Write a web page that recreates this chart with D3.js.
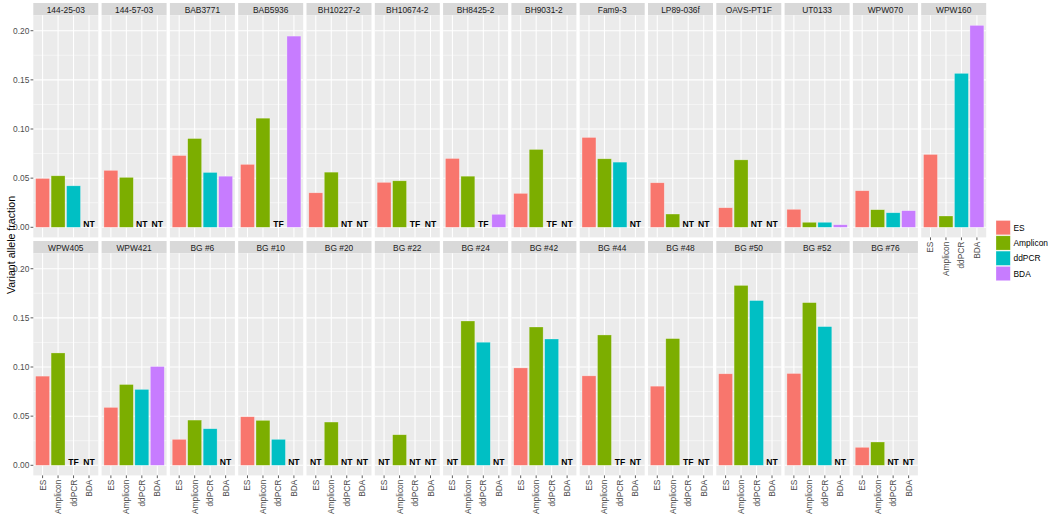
<!DOCTYPE html>
<html><head><meta charset="utf-8">
<script src="https://cdn.jsdelivr.net/npm/d3@7"></script>
<style>
html,body{margin:0;padding:0;background:#fff;}
text{font-family:"Liberation Sans",Arial,Helvetica,sans-serif;}
</style></head>
<body><svg id="chart" width="1050" height="517"></svg>
<script>
const panels = ["144-25-03","144-57-03","BAB3771","BAB5936","BH10227-2","BH10674-2","BH8425-2","BH9031-2","Fam9-3","LP89-036f","OAVS-PT1F","UT0133","WPW070","WPW160",
  "WPW405","WPW421","BG #6","BG #10","BG #20","BG #22","BG #24","BG #42","BG #44","BG #48","BG #50","BG #52","BG #76"];
const methods = ["ES","Amplicon","ddPCR","BDA"];
const colors = ["#F8766D","#7CAE00","#00BFC4","#C77CFF"];
// numeric = variant allele fraction, string = annotation (NT / TF)
const esValues = [0.0497,0.0579,0.073,0.064,0.0351,0.0457,0.070,0.0345,0.0914,0.0453,0.0199,0.0183,0.0372,0.0741,
  0.0907,0.0589,0.0264,0.0494,"NT","NT","NT",0.0991,0.091,0.0805,0.0931,0.0934,0.0183];
const ampliconValues = [0.0524,0.0508,0.0903,0.111,0.0561,0.0473,0.052,0.0792,0.0697,0.0135,0.0686,0.0051,0.0179,0.0115,
  0.1143,0.0822,0.046,0.0457,0.044,0.0311,0.1468,0.1407,0.1326,0.1289,0.183,0.1655,0.0237];
const ddpcrValues = [0.0422,"NT",0.0558,"TF","NT","TF","TF","TF",0.0663,"NT","NT",0.0051,0.0148,0.1566,
  "TF",0.0772,0.0372,0.0264,"NT","NT",0.1252,0.1285,"TF","TF",0.1676,0.1411,"NT"];
const bdaValues = ["NT","NT",0.052,0.1945,"NT","NT",0.0132,"NT","NT","NT","NT",0.0026,0.0169,0.2054,
  "NT",0.1005,"NT","NT","NT","NT","NT","NT","NT","NT","NT","NT","NT"];
const yTicks = [0,0.05,0.10,0.15,0.20];
const yMinor = [0.025,0.075,0.125,0.175];
const yTickLabels = ["0.00","0.05","0.10","0.15","0.20"];
const yTitle = "Variant allele fraction";

const series = [esValues, ampliconValues, ddpcrValues, bdaValues];
const rows = panels.map((p,i)=>({panel:p, idx:i, vals: series.map((s,j)=>({method:methods[j], v:s[i]}))}));

const svg = d3.select("#chart");
const nCols = 14;
const left = 33.3, colStep = 68.3, panelW = 65;
const rowTop = [3, 241], stripH = 12.3, panelH = 222.1;

const maxV = d3.max(series.flat().filter(v=>typeof v==="number"));
const pad = maxV*0.05;
const y = d3.scaleLinear().domain([-pad, maxV+pad]).range([panelH,0]);
// discrete x: positions 1..4 in [0.4,4.6]
const xc = d3.scaleLinear().domain([0.4,4.6]).range([0,panelW]);
const color = d3.scaleOrdinal().domain(methods).range(colors);

rows.forEach(r=>{
  const row = r.idx < nCols ? 0 : 1;
  const col = r.idx < nCols ? r.idx : r.idx - nCols;
  const gx = left + col*colStep;
  const gy = rowTop[row];
  const g = svg.append("g").attr("transform",`translate(${gx},${gy})`);
  // strip
  g.append("rect").attr("x",0).attr("y",0).attr("width",panelW).attr("height",stripH).attr("fill","#D9D9D9");
  g.append("text").attr("x",panelW/2).attr("y",stripH/2+0.5).attr("text-anchor","middle").attr("dominant-baseline","central")
    .attr("font-size","8.4px").attr("fill","#1A1A1A").text(r.panel);
  const p = g.append("g").attr("transform",`translate(0,${stripH})`);
  p.append("rect").attr("width",panelW).attr("height",panelH).attr("fill","#EBEBEB");
  yMinor.forEach(t=>p.append("line").attr("x1",0).attr("x2",panelW).attr("y1",y(t)).attr("y2",y(t)).attr("stroke","#fff").attr("stroke-width",0.5));
  yTicks.forEach(t=>p.append("line").attr("x1",0).attr("x2",panelW).attr("y1",y(t)).attr("y2",y(t)).attr("stroke","#fff").attr("stroke-width",1.05));
  methods.forEach((m,j)=>p.append("line").attr("x1",xc(j+1)).attr("x2",xc(j+1)).attr("y1",0).attr("y2",panelH).attr("stroke","#fff").attr("stroke-width",1.05));
  // bars
  r.vals.forEach((d,j)=>{
    if(typeof d.v === "number"){
      p.append("rect").attr("x",xc(j+1-0.45)).attr("width",xc(0.9)-xc(0))
        .attr("y",y(d.v)).attr("height",y(0)-y(d.v))
        .attr("fill",color(d.method)).attr("stroke","#fff").attr("stroke-opacity",0.45).attr("stroke-width",0.6);
    } else {
      p.append("text").attr("x",xc(j+1)).attr("y",y(0)).attr("text-anchor","middle")
        .attr("font-size","8.6px").attr("font-weight","bold").attr("fill","#000").text(d.v);
    }
  });
  // y axis on first column
  if(col===0){
    yTicks.forEach((t,k)=>{
      p.append("line").attr("x1",-2.75).attr("x2",0).attr("y1",y(t)).attr("y2",y(t)).attr("stroke","#333").attr("stroke-width",0.8);
      p.append("text").attr("x",-4).attr("y",y(t)).attr("text-anchor","end").attr("dominant-baseline","central")
        .attr("font-size","8.4px").attr("fill","#4D4D4D").text(yTickLabels[k]);
    });
  }
  // x axis for bottom row and for WPW160 (no panel below)
  if(row===1 || col===nCols-1){
    methods.forEach((m,j)=>{
      p.append("line").attr("x1",xc(j+1)).attr("x2",xc(j+1)).attr("y1",panelH).attr("y2",panelH+2.75).attr("stroke","#333").attr("stroke-width",0.8);
      p.append("text").attr("transform",`translate(${xc(j+1)},${panelH+4.2}) rotate(-90)`)
        .attr("text-anchor","end").attr("dominant-baseline","central")
        .attr("font-size","8.4px").attr("fill","#4D4D4D").text(m);
    });
  }
});

// y title
svg.append("text").attr("transform","translate(11,245) rotate(-90)").attr("text-anchor","middle")
  .attr("dominant-baseline","central").attr("font-size","10.6px").attr("fill","#000").text(yTitle);

// legend
const lg = svg.append("g").attr("transform","translate(996,220.5)");
methods.forEach((m,j)=>{
  const ly = j*15.3;
  lg.append("rect").attr("x",0).attr("y",ly).attr("width",14.3).attr("height",14.3)
    .attr("fill",color(m)).attr("stroke","#fff").attr("stroke-opacity",0.45).attr("stroke-width",0.6);
  lg.append("text").attr("x",17.5).attr("y",ly+7.3).attr("dominant-baseline","central")
    .attr("font-size","8.4px").attr("fill","#000").text(m);
});
</script></body></html>
